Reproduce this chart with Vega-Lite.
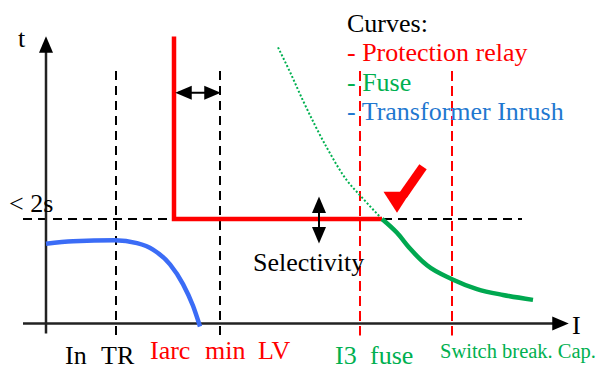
{
  "$schema": "https://vega.github.io/schema/vega-lite/v6.json",
  "width": 600,
  "height": 369,
  "padding": 0,
  "autosize": {"type": "fit", "contains": "padding"},
  "background": "white",
  "config": {"view": {"stroke": null}},
  "datasets": {
    "guides": [
      {"x": 116, "y": 72, "x2": 116, "y2": 340},
      {"x": 220, "y": 72, "x2": 220, "y2": 340},
      {"x": 23, "y": 222, "x2": 522, "y2": 222}
    ],
    "limits": [
      {"x": 360, "y": 72, "x2": 360, "y2": 340},
      {"x": 452, "y": 72, "x2": 452, "y2": 340}
    ],
    "axes": [
      {"x": 46, "y": 338, "x2": 46, "y2": 50},
      {"x": 23, "y": 328, "x2": 555, "y2": 328}
    ],
    "shafts": [
      {"x": 178, "y": 94, "x2": 217, "y2": 94},
      {"x": 319, "y": 203, "x2": 319, "y2": 244}
    ],
    "pointer": [
      {"x": 423, "y": 169, "x2": 403, "y2": 198}
    ],
    "relay": [
      {"x": 174, "y": 37},
      {"x": 174, "y": 222},
      {"x": 382, "y": 222}
    ],
    "fuseDotted": [
      {"x": 278, "y": 48},
      {"x": 290, "y": 73},
      {"x": 303, "y": 102},
      {"x": 315, "y": 127},
      {"x": 327, "y": 150},
      {"x": 347, "y": 183},
      {"x": 360, "y": 198},
      {"x": 382, "y": 222}
    ],
    "fuse": [
      {"x": 382, "y": 222},
      {"x": 397, "y": 236},
      {"x": 410, "y": 252},
      {"x": 427, "y": 269},
      {"x": 452, "y": 283},
      {"x": 477, "y": 293},
      {"x": 503, "y": 299},
      {"x": 533, "y": 304}
    ],
    "inrush": [
      {"x": 46, "y": 247},
      {"x": 73, "y": 244.5},
      {"x": 115, "y": 243.5},
      {"x": 137, "y": 246.5},
      {"x": 153, "y": 253},
      {"x": 170, "y": 268},
      {"x": 183, "y": 288},
      {"x": 193, "y": 310},
      {"x": 200, "y": 331}
    ],
    "heads": [
      {"x": 46, "y": 45, "dir": "up"},
      {"x": 560.5, "y": 328, "dir": "right"},
      {"x": 183.5, "y": 94, "dir": "left"},
      {"x": 212.5, "y": 94, "dir": "right"},
      {"x": 319, "y": 207.5, "dir": "up"},
      {"x": 319, "y": 238.5, "dir": "down"}
    ],
    "pointerHead": [
      {"x": 397, "y": 205, "dir": "downleft"}
    ],
    "labels": [
      {"x": 18, "y": 48, "text": "t", "series": "note"},
      {"x": 572, "y": 339, "text": "I", "series": "note"},
      {"x": 9, "y": 215, "text": "< 2s", "series": "note"},
      {"x": 253, "y": 275, "text": "Selectivity", "series": "note"},
      {"x": 347, "y": 32, "text": "Curves:", "series": "note"},
      {"x": 347, "y": 62, "text": "- Protection relay", "series": "relay"},
      {"x": 347, "y": 92, "text": "- Fuse", "series": "fuse"},
      {"x": 347, "y": 122, "text": "- Transformer Inrush", "series": "inrush"},
      {"x": 65, "y": 369, "text": "In", "series": "note"},
      {"x": 101, "y": 369, "text": "TR", "series": "note"},
      {"x": 150, "y": 364, "text": "Iarc", "series": "relay"},
      {"x": 205, "y": 364, "text": "min", "series": "relay"},
      {"x": 258, "y": 364, "text": "LV", "series": "relay"},
      {"x": 335, "y": 369, "text": "I3", "series": "fuse"},
      {"x": 370, "y": 369, "text": "fuse", "series": "fuse"}
    ],
    "smallLabels": [
      {"x": 440, "y": 363, "text": "Switch break. Cap.", "series": "fuse"}
    ]
  },
  "layer": [
    {
      "data": {"name": "guides"},
      "mark": {"type": "rule", "color": "#000000", "strokeWidth": 2, "strokeDash": [9, 6]},
      "encoding": {
        "x": {"field": "x", "type": "quantitative", "scale": {"domain": [0, 600], "nice": false, "zero": false}, "axis": null},
        "y": {"field": "y", "type": "quantitative", "scale": {"domain": [0, 369], "nice": false, "zero": false, "reverse": true}, "axis": null},
        "x2": {"field": "x2"},
        "y2": {"field": "y2"}
      }
    },
    {
      "data": {"name": "limits"},
      "mark": {"type": "rule", "color": "#FF0000", "strokeWidth": 2, "strokeDash": [10, 5]},
      "encoding": {
        "x": {"field": "x", "type": "quantitative"},
        "y": {"field": "y", "type": "quantitative"},
        "x2": {"field": "x2"},
        "y2": {"field": "y2"}
      }
    },
    {
      "data": {"name": "axes"},
      "mark": {"type": "rule", "color": "#222222", "strokeWidth": 2.5},
      "encoding": {
        "x": {"field": "x", "type": "quantitative"},
        "y": {"field": "y", "type": "quantitative"},
        "x2": {"field": "x2"},
        "y2": {"field": "y2"}
      }
    },
    {
      "data": {"name": "inrush"},
      "mark": {"type": "line", "color": "#3B6CF6", "strokeWidth": 4.5, "interpolate": "monotone"},
      "encoding": {
        "x": {"field": "x", "type": "quantitative"},
        "y": {"field": "y", "type": "quantitative"},
        "order": {"value": null}
      }
    },
    {
      "data": {"name": "fuseDotted"},
      "mark": {"type": "line", "color": "#00B050", "strokeWidth": 2, "strokeDash": [2, 2], "interpolate": "monotone"},
      "encoding": {
        "x": {"field": "x", "type": "quantitative"},
        "y": {"field": "y", "type": "quantitative"},
        "order": {"value": null}
      }
    },
    {
      "data": {"name": "relay"},
      "mark": {"type": "line", "color": "#FF0000", "strokeWidth": 4.5, "strokeJoin": "miter", "strokeCap": "butt"},
      "encoding": {
        "x": {"field": "x", "type": "quantitative"},
        "y": {"field": "y", "type": "quantitative"},
        "order": {"value": null}
      }
    },
    {
      "data": {"name": "fuse"},
      "mark": {"type": "line", "color": "#00A850", "strokeWidth": 4.5, "interpolate": "monotone"},
      "encoding": {
        "x": {"field": "x", "type": "quantitative"},
        "y": {"field": "y", "type": "quantitative"},
        "order": {"value": null}
      }
    },
    {
      "data": {"name": "shafts"},
      "mark": {"type": "rule", "color": "#000000", "strokeWidth": 2},
      "encoding": {
        "x": {"field": "x", "type": "quantitative"},
        "y": {"field": "y", "type": "quantitative"},
        "x2": {"field": "x2"},
        "y2": {"field": "y2"}
      }
    },
    {
      "data": {"name": "pointer"},
      "mark": {"type": "rule", "color": "#FF0000", "strokeWidth": 9, "strokeCap": "butt"},
      "encoding": {
        "x": {"field": "x", "type": "quantitative"},
        "y": {"field": "y", "type": "quantitative"},
        "x2": {"field": "x2"},
        "y2": {"field": "y2"}
      }
    },
    {
      "data": {"name": "heads"},
      "mark": {"type": "point", "shape": "M0,-1L0.85,1L-0.85,1Z", "filled": true, "color": "#000000", "opacity": 1, "size": 272, "strokeWidth": 0},
      "encoding": {
        "x": {"field": "x", "type": "quantitative"},
        "y": {"field": "y", "type": "quantitative"},
        "angle": {"field": "dir", "type": "nominal", "scale": {"type": "ordinal", "domain": ["up", "right", "down", "left", "downleft"], "range": [0, 90, 180, 270, 221]}, "legend": null}
      }
    },
    {
      "data": {"name": "pointerHead"},
      "mark": {"type": "point", "shape": "M0,-0.78L1,0.78L-1,0.78Z", "filled": true, "color": "#FF0000", "opacity": 1, "size": 729, "strokeWidth": 0},
      "encoding": {
        "x": {"field": "x", "type": "quantitative"},
        "y": {"field": "y", "type": "quantitative"},
        "angle": {"field": "dir", "type": "nominal", "legend": null}
      }
    },
    {
      "data": {"name": "labels"},
      "mark": {"type": "text", "font": "Liberation Serif", "fontSize": 26, "align": "left", "baseline": "alphabetic"},
      "encoding": {
        "x": {"field": "x", "type": "quantitative"},
        "y": {"field": "y", "type": "quantitative"},
        "text": {"field": "text"},
        "color": {"field": "series", "type": "nominal", "scale": {"domain": ["note", "relay", "fuse", "inrush"], "range": ["#000000", "#FF0000", "#00B050", "#1F78D0"]}, "legend": null}
      }
    },
    {
      "data": {"name": "smallLabels"},
      "mark": {"type": "text", "font": "Liberation Serif", "fontSize": 20.5, "align": "left", "baseline": "alphabetic"},
      "encoding": {
        "x": {"field": "x", "type": "quantitative"},
        "y": {"field": "y", "type": "quantitative"},
        "text": {"field": "text"},
        "color": {"field": "series", "type": "nominal", "legend": null}
      }
    }
  ]
}
